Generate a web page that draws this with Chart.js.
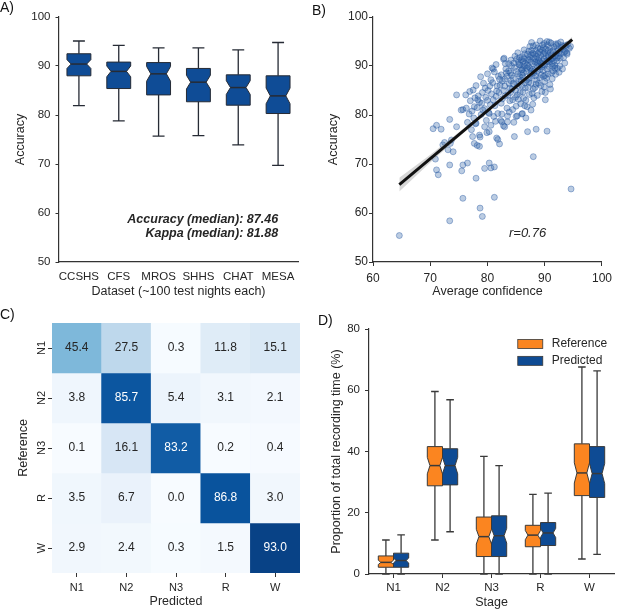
<!DOCTYPE html>
<html>
<head>
<meta charset="utf-8">
<script src="https://cdn.jsdelivr.net/npm/chart.js@4.4.1/dist/chart.umd.min.js"></script>
<style>
  html, body { margin: 0; padding: 0; background: #fff; }
  #figure { position: relative; width: 617px; height: 610px; overflow: hidden; font-family: "Liberation Sans", Arial, sans-serif; }
  #figure canvas { position: absolute; }
  .tag { position: absolute; font-size: 14px; line-height: 16px; color: #111; }
</style>
</head>
<body>
<div id="figure">
  <canvas id="panelA" width="308" height="300" style="left:0;top:0"></canvas>
  <canvas id="panelB" width="309" height="300" style="left:308px;top:0"></canvas>
  <canvas id="panelC" width="308" height="310" style="left:0;top:300px"></canvas>
  <canvas id="panelD" width="309" height="310" style="left:308px;top:300px"></canvas>
  <div class="tag" style="left:0;top:-1px">A)</div>
  <div class="tag" style="left:312px;top:2px">B)</div>
  <div class="tag" style="left:0;top:306px">C)</div>
  <div class="tag" style="left:318px;top:312px">D)</div>
</div>
<script>
// ---- A) accuracy per dataset (box stats read off the figure)
const cohorts = ['CCSHS', 'CFS', 'MROS', 'SHHS', 'CHAT', 'MESA'];
const accWhiskLo = [81.9, 78.8, 75.7, 75.8, 73.9, 69.7];
const accQ1 = [88.0, 85.4, 84.1, 82.7, 82.0, 80.3];
const accMedian = [90.4, 88.9, 88.4, 86.7, 85.6, 83.9];
const accQ3 = [92.5, 90.8, 90.7, 89.5, 88.2, 88.0];
const accWhiskHi = [95.1, 94.2, 93.7, 93.7, 93.3, 94.8];
const accNotch = [0.9, 1.1, 1.5, 1.4, 1.4, 1.6];

// ---- B) accuracy vs average confidence, one point per night
const nights = [
  [64.6,55.4],[94.6,64.9],[73.4,58.4],[78.7,61.0],[79.1,59.3],[75.7,63.0],[81.2,63.2],[88.0,71.5],
  [78.0,67.1],[79.5,69.1],[80.3,70.2],[80.6,69.2],[81.2,69.4],[76.5,70.2],[75.5,68.6],[75.7,69.8],
  [73.4,69.8],[71.1,68.8],[71.4,67.8],[70.9,71.0],[70.5,77.2],[71.1,77.9],[71.9,77.1],[73.4,79.1],
  [74.6,77.6],[73.7,74.9],[74.0,72.5],[73.1,72.9],[72.2,73.9],[72.5,74.4],[73.5,74.2],
  [74.6,84.1],[76.9,84.8],[75.7,81.1],[75.4,81.0],[76.3,81.4],[77.7,81.7],[78.3,83.1],[77.8,83.5],[79.2,81.0],
  [77.4,75.6],[78.6,75.9],[77.7,74.2],[78.2,73.8],[78.6,73.6],[78.7,75.5],[78.0,78.3],[79.5,77.6],[80.3,76.6],
  [80.3,80.3],[81.8,75.0],[82.1,74.1],[81.6,75.3],[82.5,78.6],[82.8,77.8],[83.0,77.6],[83.5,78.6],
  [84.7,75.6],[85.0,79.7],[86.1,80.3],[87.0,76.6],[87.6,81.0],[88.5,77.1],[90.4,76.7],[90.1,83.1],
  [80.6,87.2],[81.0,89.4],[80.0,88.4],[81.5,90.3],[82.8,91.4],[83.7,90.5],[87.7,94.8],[89.2,95.1],[93.9,92.7],[93.2,94.0],
  [76.2,84.1],[77.0,82.9],[77.3,80.8],[77.6,79.4],[77.9,78.2],[78.2,81.5],[76.8,80.2],[77.5,85.1],[78.4,83.9],[78.0,86.0],[76.5,78.5],[77.2,77.0],
  [78.6,82.6],[78.9,80.1],[79.1,84.6],[79.3,86.5],[79.5,81.3],[79.8,78.9],[80.0,83.0],[79.6,85.5],[78.8,87.8],[80.2,80.5],[79.9,76.4],[80.1,85.0],
  [80.5,82.1],[80.7,84.3],[80.9,86.6],[81.1,79.7],[81.3,81.9],[81.5,83.8],[81.7,85.9],[81.9,87.9],[81.2,88.8],[80.6,77.9],[81.8,80.3],[82.0,84.6],[81.4,78.7],[80.8,89.6],
  [82.2,86.1],[82.4,88.2],[82.6,83.3],[82.8,85.0],[83.0,87.3],[83.2,89.4],[83.4,81.4],[83.6,84.1],[83.8,86.4],[84.0,88.6],[82.5,80.2],[83.1,90.5],[83.9,82.9],[82.3,78.9],[83.5,79.8],[84.1,91.2],[82.9,91.6],
  [84.3,85.3],[84.5,87.5],[84.7,89.7],[84.9,83.6],[85.1,86.4],[85.3,88.4],[85.5,90.3],[85.7,84.6],[85.9,87.1],[84.4,81.1],[85.2,79.8],[84.8,92.0],[85.6,91.7],[86.0,89.2],[84.6,78.5],[85.8,82.3],[85.4,85.9],[84.2,90.0],[86.0,80.2],
  [86.2,87.8],[86.4,90.0],[86.6,85.5],[86.8,88.9],[87.0,91.2],[87.2,86.7],[87.4,89.6],[87.6,92.3],[87.8,87.9],[88.0,90.4],[86.3,83.4],[86.9,81.7],[87.3,84.2],[87.7,93.2],[86.5,92.5],[88.0,85.3],[86.1,89.3],[87.5,88.3],[86.7,79.4],[87.9,82.2],[88.0,94.1],
  [88.2,89.0],[88.4,91.4],[88.6,87.1],[88.8,92.5],[89.0,89.9],[89.2,93.5],[89.4,88.2],[89.6,91.0],[89.8,93.8],[90.0,90.2],[88.3,85.6],[88.9,86.5],[89.5,84.8],[88.5,94.3],[89.1,87.6],[89.7,89.1],[88.7,90.6],[89.3,92.2],[90.0,86.9],[88.1,83.5],[89.9,94.6],
  [90.2,92.0],[90.4,89.4],[90.6,93.1],[90.8,90.8],[91.0,92.8],[91.2,88.6],[91.4,91.6],[91.6,93.9],[91.8,90.1],[92.0,92.4],[90.3,87.5],[90.9,86.2],[91.5,89.0],[90.5,94.3],[91.1,94.7],[91.9,88.3],[90.7,91.7],[91.3,90.4],[92.0,94.2],[90.1,84.6],
  [92.2,91.1],[92.4,93.3],[92.6,90.0],[92.8,92.5],[93.0,94.2],[93.3,91.7],[93.6,93.0],[93.9,92.4],[94.3,93.6],[92.5,88.7],[93.1,89.4],[92.3,94.6],[94.0,94.4],[93.5,90.6],
  [85.0,88.9],[85.4,90.8],[85.9,91.3],[86.3,88.6],[86.6,90.6],[87.1,89.9],[87.4,91.8],[87.9,89.3],[88.2,92.4],[88.6,90.1],[89.0,91.6],[89.4,90.5],[89.8,92.5],[90.3,91.0],[90.7,89.9],[91.2,92.3],[91.6,91.0],[92.1,93.0],
  [86.8,87.1],[87.6,86.5],[88.4,88.0],[89.2,89.3],[90.1,88.1],[84.5,86.4],[85.6,87.8],[86.0,86.0],[83.4,87.9],[84.1,87.0],[83.7,89.0],[88.8,93.7],[89.6,93.2],[90.9,93.6],[87.2,93.0],[86.1,91.9],[91.8,89.6],[92.7,91.6],[85.2,84.1],[84.0,84.6],[83.0,85.9],[82.1,87.3],
  [84.2,88.1],[84.6,90.6],[85.1,91.4],[85.5,86.9],[85.8,89.6],[86.2,90.9],[86.5,86.6],[86.9,90.2],[87.3,87.5],[87.6,90.9],[87.9,92.6],[88.3,90.8],[88.7,88.9],[89.1,92.9],[89.5,89.8],[89.9,91.4],[90.2,93.4],[90.6,92.2],
  [91.0,91.2],[91.4,93.1],[91.7,92.0],[92.1,91.6],[92.5,92.7],[92.9,93.7],[93.4,92.8],[88.9,91.1],[88.0,91.7],[87.0,92.4],[86.4,93.3],[85.3,92.7],[89.6,94.3],[90.8,94.9],[91.9,94.5],[88.4,93.1],[87.4,94.0],
  [82.6,86.9],[83.3,88.6],[83.9,85.5],[84.4,83.1],[84.9,85.0],[85.4,83.2],[86.2,84.7],[86.7,83.0],[87.1,85.6],[87.8,84.4],[88.5,86.3],[89.3,86.0],[89.8,87.9],[90.6,88.4],[91.3,87.4],[92.2,89.5],
  [83.1,83.9],[82.4,82.4],[81.6,84.9],[81.0,83.1],[80.4,85.9],[79.7,83.6],[79.0,82.4],[83.8,80.6],[85.0,81.8],[86.5,81.9],[88.7,84.0],[89.9,85.7],[91.0,85.3],
  [86.0,88.2],[86.9,89.5],[87.7,89.0],[88.6,91.9],[89.7,90.3],[90.5,90.9],[91.4,89.9],[85.7,90.2],[86.4,91.5],[87.2,91.3],[88.1,88.6],[89.2,90.8],[90.0,92.7],[91.1,91.5],[92.4,92.0],[93.2,93.4],[93.7,94.2],[94.5,94.0],[92.8,94.9],[90.4,95.0]
];
const fitX = [64.6, 94.8];
const fitY = [65.8, 95.4];
const bandX = [64.6, 70, 75, 80, 85, 90, 94.8];
const bandLo = [64.4, 70.3, 75.5, 80.55, 85.5, 90.35, 94.85];
const bandHi = [67.2, 71.9, 76.5, 81.25, 86.1, 91.05, 95.95];

// ---- C) confusion matrix (% of reference epochs)
const stages = ['N1', 'N2', 'N3', 'R', 'W'];
const confusion = [
  [45.4, 27.5, 0.3, 11.8, 15.1],
  [3.8, 85.7, 5.4, 3.1, 2.1],
  [0.1, 16.1, 83.2, 0.2, 0.4],
  [3.5, 6.7, 0.0, 86.8, 3.0],
  [2.9, 2.4, 0.3, 1.5, 93.0]
];

// ---- D) proportion of total recording time per stage
const refLo = [0, 11.1, 0, 0, 4.9];
const refQ1 = [2.2, 28.8, 5.7, 8.9, 25.6];
const refMedian = [3.8, 35.4, 12.2, 12.7, 33.0];
const refQ3 = [5.9, 41.6, 18.6, 15.9, 42.5];
const refHi = [11.1, 59.6, 38.4, 26.0, 67.6];
const refNotch = [0.7, 2.7, 2.4, 1.5, 3.3];
const predLo = [0, 13.8, 0, 0, 6.4];
const predQ1 = [2.2, 29.1, 5.7, 9.3, 25.0];
const predMedian = [4.4, 35.4, 12.5, 13.4, 32.8];
const predQ3 = [6.8, 40.9, 19.0, 16.8, 41.6];
const predHi = [12.8, 56.9, 35.4, 26.4, 66.3];
const predNotch = [0.8, 2.7, 2.4, 1.5, 3.3];

const ink = '#262626';
const FONT = '"Liberation Sans", Arial, sans-serif';
Chart.defaults.font.family = FONT;
Chart.defaults.color = ink;
Chart.defaults.animation = false;
Chart.defaults.plugins.legend.display = false;
Chart.defaults.plugins.tooltip.enabled = false;

function fixedSize(w, h) {
  return (scale) => {
    if (w) scale.width = w;
    if (h) scale.height = h;
  };
}

function axis(opts) {
  return {
    grid: { drawOnChartArea: false, drawTicks: opts.tickLen > 0, tickLength: opts.tickLen, color: '#333', lineWidth: 1, offset: false },
    border: { display: opts.border !== false, color: '#333', width: 1.2 },
    ticks: { padding: opts.pad, stepSize: opts.step, display: opts.labels !== false, font: { size: opts.tickSize || 11 }, color: ink,
      maxRotation: 0, minRotation: 0, autoSkip: false },
    title: { display: true, text: opts.title, font: { size: 12.5 }, color: ink, padding: opts.titlePad }
  };
}

// draws notched boxes from the floating bars (q1..q3) laid out by Chart.js
const notchedBoxes = {
  id: 'notchedBoxes',
  afterDatasetsDraw(chart) {
    const { ctx } = chart;
    const y = chart.scales.y;
    const p = (v) => y.getPixelForValue(v);
    chart.data.datasets.forEach((ds, di) => {
      const s = ds.boxStats;
      if (!s) return;
      chart.getDatasetMeta(di).data.forEach((bar, i) => {
        const xc = bar.x, hw = bar.width / 2, inner = hw * 0.65;
        const nl = Math.max(s.med[i] - s.notch[i], s.q1[i]);
        const nh = Math.min(s.med[i] + s.notch[i], s.q3[i]);
        ctx.save();
        ctx.strokeStyle = ds.edgeColor;
        ctx.lineWidth = 1.3;
        ctx.beginPath();
        ctx.moveTo(xc, p(s.q3[i])); ctx.lineTo(xc, p(s.hi[i]));
        ctx.moveTo(xc - hw / 2, p(s.hi[i])); ctx.lineTo(xc + hw / 2, p(s.hi[i]));
        ctx.moveTo(xc, p(s.q1[i])); ctx.lineTo(xc, p(s.lo[i]));
        ctx.moveTo(xc - hw / 2, p(s.lo[i])); ctx.lineTo(xc + hw / 2, p(s.lo[i]));
        ctx.stroke();

        ctx.beginPath();
        ctx.moveTo(xc - hw, p(s.q1[i]));
        ctx.lineTo(xc + hw, p(s.q1[i]));
        ctx.lineTo(xc + hw, p(nl));
        ctx.lineTo(xc + inner, p(s.med[i]));
        ctx.lineTo(xc + hw, p(nh));
        ctx.lineTo(xc + hw, p(s.q3[i]));
        ctx.lineTo(xc - hw, p(s.q3[i]));
        ctx.lineTo(xc - hw, p(nh));
        ctx.lineTo(xc - inner, p(s.med[i]));
        ctx.lineTo(xc - hw, p(nl));
        ctx.closePath();
        ctx.fillStyle = ds.boxColor;
        ctx.fill();
        ctx.lineWidth = 1;
        ctx.stroke();

        ctx.lineWidth = 1.5;
        ctx.beginPath();
        ctx.moveTo(xc - inner, p(s.med[i]));
        ctx.lineTo(xc + inner, p(s.med[i]));
        ctx.stroke();
        ctx.restore();
      });
    });
  }
};

// free text (and legend swatches) placed in data coordinates
const notes = {
  id: 'notes',
  afterDraw(chart, args, opts) {
    const { ctx, scales } = chart;
    (opts.items || []).forEach((n) => {
      const px = scales.x.getPixelForValue(n.x);
      const py = scales.y.getPixelForValue(n.y);
      ctx.save();
      if (n.swatch) {
        ctx.fillStyle = n.swatch;
        ctx.fillRect(px - 34, py - 4.5, 25, 9);
        ctx.strokeStyle = '#3a3a3a';
        ctx.lineWidth = 0.8;
        ctx.strokeRect(px - 34, py - 4.5, 25, 9);
      }
      ctx.font = n.font;
      ctx.fillStyle = ink;
      ctx.textAlign = n.align || 'left';
      ctx.textBaseline = 'middle';
      ctx.fillText(n.text, px, py);
      ctx.restore();
    });
  }
};

// ---------------- A
new Chart(document.getElementById('panelA'), {
  type: 'bar',
  data: {
    labels: cohorts,
    datasets: [{
      data: accQ1.map((v, i) => [v, accQ3[i]]),
      backgroundColor: 'rgba(0,0,0,0)',
      borderWidth: 0,
      categoryPercentage: 1,
      barPercentage: 0.6,
      boxColor: '#0f4c96',
      edgeColor: '#262b35',
      boxStats: { lo: accWhiskLo, q1: accQ1, med: accMedian, q3: accQ3, hi: accWhiskHi, notch: accNotch }
    }]
  },
  options: {
    responsive: false,
    layout: { padding: { top: 17, right: 10, left: 0, bottom: 0 } },
    scales: {
      x: Object.assign(axis({ tickLen: 0, pad: 8, tickSize: 11.5, title: 'Dataset (~100 test nights each)', titlePad: { top: 0, bottom: 1 } }),
        { afterFit: fixedSize(0, 38) }),
      y: Object.assign(axis({ tickLen: 3.5, pad: 5, step: 10, tickSize: 11.5, title: 'Accuracy', titlePad: { top: 13, bottom: 0 } }),
        { min: 50, max: 100, afterFit: fixedSize(59, 0) })
    },
    plugins: {
      notes: { items: [
        { text: 'Accuracy (median): 87.46', x: 5, y: 58.6, align: 'right', font: 'italic bold 12.5px ' + FONT },
        { text: 'Kappa (median): 81.88', x: 5, y: 55.9, align: 'right', font: 'italic bold 12.5px ' + FONT }
      ] }
    }
  },
  plugins: [notchedBoxes, notes]
});

// ---------------- B
const pts = (xs, ys) => xs.map((x, i) => ({ x, y: ys[i] }));
new Chart(document.getElementById('panelB'), {
  type: 'scatter',
  data: {
    datasets: [
      { data: pts(fitX, fitY), showLine: true, borderColor: '#111', borderWidth: 3, pointRadius: 0, order: 0 },
      { data: pts(bandX, bandHi), showLine: true, borderColor: 'rgba(0,0,0,0)', pointRadius: 0, fill: '+1', backgroundColor: 'rgba(150,150,150,0.38)', order: 1 },
      { data: pts(bandX, bandLo), showLine: true, borderColor: 'rgba(0,0,0,0)', pointRadius: 0, order: 1 },
      { data: nights.map(([x, y]) => ({ x, y })), pointRadius: 3, backgroundColor: 'rgba(45,95,165,0.32)', borderColor: 'rgba(35,85,160,0.5)', borderWidth: 0.8, order: 2 }
    ]
  },
  options: {
    responsive: false,
    layout: { padding: { top: 17, right: 14, left: 0, bottom: 0 } },
    scales: {
      x: Object.assign(axis({ tickLen: 4, pad: 5, step: 10, tickSize: 12, title: 'Average confidence', titlePad: { top: 0, bottom: 1 } }),
        { type: 'linear', min: 60, max: 100, afterFit: fixedSize(0, 38) }),
      y: Object.assign(axis({ tickLen: 4, pad: 1, step: 10, tickSize: 12, title: 'Accuracy', titlePad: { top: 18, bottom: 0 } }),
        { type: 'linear', min: 50, max: 100, afterFit: fixedSize(65, 0) })
    },
    plugins: {
      notes: { items: [{ text: 'r=0.76', x: 87, y: 55.9, align: 'center', font: 'italic 13px ' + FONT }] }
    }
  },
  plugins: [notes]
});

// ---------------- C
const bluesStops = ['#f7fbff', '#deebf7', '#c6dbef', '#9ecae1', '#6baed6', '#4292c6', '#2171b5', '#08519c', '#08306b'];
function blues(v) {
  const t = Math.min(Math.max(v / 100, 0), 1) * 8;
  const i = Math.min(Math.floor(t), 7), f = t - i;
  const a = parseInt(bluesStops[i].slice(1), 16), b = parseInt(bluesStops[i + 1].slice(1), 16);
  const ch = (sh) => Math.round(((a >> sh) & 255) * (1 - f) + ((b >> sh) & 255) * f);
  return 'rgb(' + ch(16) + ',' + ch(8) + ',' + ch(0) + ')';
}

const cellText = {
  id: 'cellText',
  afterDatasetsDraw(chart) {
    const { ctx, chartArea } = chart;
    const y = chart.scales.y;
    ctx.save();
    ctx.textAlign = 'center';
    ctx.textBaseline = 'middle';
    ctx.font = '12px ' + FONT;
    chart.data.datasets.forEach((ds, r) => {
      chart.getDatasetMeta(r).data.forEach((bar, c) => {
        const v = confusion[r][c];
        ctx.fillStyle = v > 60 ? '#ffffff' : ink;
        ctx.fillText(v.toFixed(1), bar.x, (bar.y + bar.base) / 2);
      });
    });
    // row tick labels, rotated like the original
    ctx.fillStyle = ink;
    ctx.font = '11px ' + FONT;
    stages.forEach((s, r) => {
      ctx.save();
      ctx.translate(chartArea.left - 10, y.getPixelForValue(r + 0.5));
      ctx.rotate(-Math.PI / 2);
      ctx.fillText(s, 0, 0);
      ctx.restore();
    });
    ctx.restore();
  }
};

new Chart(document.getElementById('panelC'), {
  type: 'bar',
  data: {
    labels: stages,
    datasets: stages.map((s, r) => ({
      label: s,
      data: stages.map(() => 1),
      backgroundColor: confusion[r].map(blues),
      borderWidth: 0,
      categoryPercentage: 1,
      barPercentage: 1
    }))
  },
  options: {
    responsive: false,
    layout: { padding: { top: 23, right: 8, left: 0, bottom: 0 } },
    scales: {
      x: Object.assign(axis({ tickLen: 4, pad: 4, tickSize: 11, border: false, title: 'Predicted', titlePad: { top: 0, bottom: 1 } }),
        { stacked: true, afterFit: fixedSize(0, 37) }),
      y: Object.assign(axis({ tickLen: 4, pad: 2, tickSize: 11, labels: false, border: false, title: 'Reference', titlePad: { top: 16, bottom: 0 } }),
        { stacked: true, min: 0, max: 5, reverse: true, afterFit: fixedSize(52, 0),
          afterBuildTicks: (scale) => { scale.ticks = stages.map((s, r) => ({ value: r + 0.5 })); } })
    }
  },
  plugins: [cellText]
});

// ---------------- D
new Chart(document.getElementById('panelD'), {
  type: 'bar',
  data: {
    labels: stages,
    datasets: [
      { label: 'Reference', data: refQ1.map((v, i) => [v, refQ3[i]]), backgroundColor: 'rgba(0,0,0,0)', borderWidth: 0,
        categoryPercentage: 0.62, barPercentage: 1, boxColor: '#fb8520', edgeColor: '#3a3a3a',
        boxStats: { lo: refLo, q1: refQ1, med: refMedian, q3: refQ3, hi: refHi, notch: refNotch } },
      { label: 'Predicted', data: predQ1.map((v, i) => [v, predQ3[i]]), backgroundColor: 'rgba(0,0,0,0)', borderWidth: 0,
        categoryPercentage: 0.62, barPercentage: 1, boxColor: '#0e4b94', edgeColor: '#3a3a3a',
        boxStats: { lo: predLo, q1: predQ1, med: predMedian, q3: predQ3, hi: predHi, notch: predNotch } }
    ]
  },
  options: {
    responsive: false,
    layout: { padding: { top: 29, right: 3, left: 0, bottom: 0 } },
    scales: {
      x: Object.assign(axis({ tickLen: 4, pad: 3, tickSize: 11.5, title: 'Stage', titlePad: { top: 0, bottom: 0 } }),
        { afterFit: fixedSize(0, 36) }),
      y: Object.assign(axis({ tickLen: 4, pad: 5, step: 20, tickSize: 11.5, title: 'Proportion of total recording time (%)', titlePad: { top: 21, bottom: 0 } }),
        { min: 0, max: 80, afterFit: fixedSize(61, 0) })
    },
    plugins: {
      notes: { items: [
        { text: 'Reference', x: 3.23, y: 75.1, swatch: '#fb8520', font: '12px ' + FONT },
        { text: 'Predicted', x: 3.23, y: 69.6, swatch: '#0e4b94', font: '12px ' + FONT }
      ] }
    }
  },
  plugins: [notchedBoxes, notes]
});
</script>
</body>
</html>
